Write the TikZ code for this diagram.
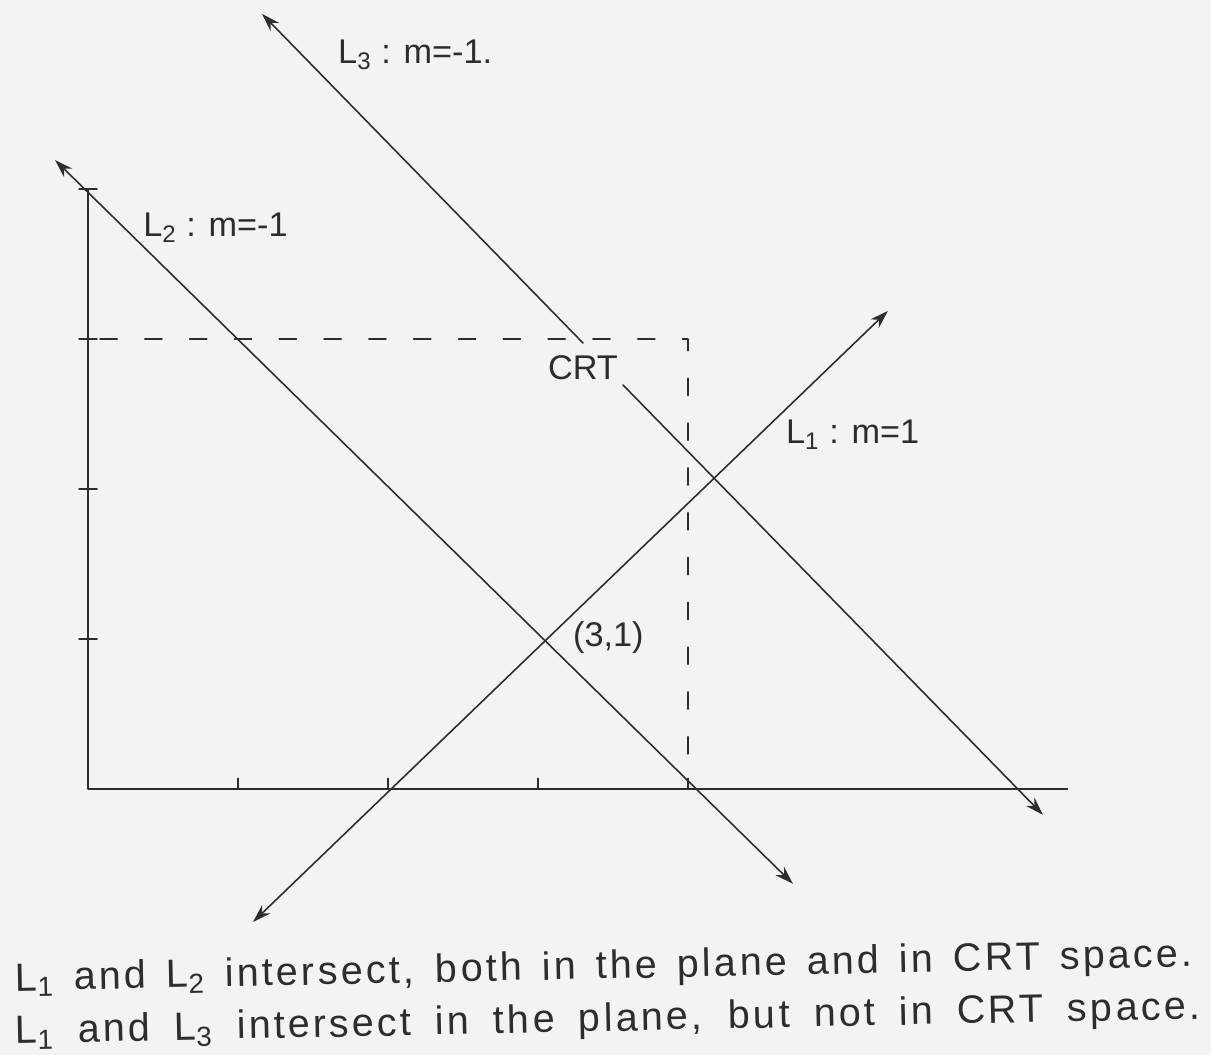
\documentclass[tikz,border=0pt]{standalone}
\usepackage{fontspec}
\setmainfont{Liberation Sans}
\usetikzlibrary{arrows.meta}
\definecolor{paper}{RGB}{243,243,243}
\definecolor{pencil}{RGB}{45,45,45}

\begin{document}
\begin{tikzpicture}[
    >={Stealth[length=7pt,width=4.5pt]},
    line cap=round,
    line join=round,
    x=2cm, y=2cm,
    pencil line/.style={draw=pencil, line width=0.6pt},
    hand label/.style={text=pencil, font=\fontsize{13}{15}\selectfont, inner sep=1pt},
    hand note/.style={text=pencil, font=\fontsize{15}{18}\selectfont\addfontfeatures{LetterSpace=8},
        rotate=1.2, anchor=west, inner sep=0pt}
]

%------------------------------------------------
% Paper
%------------------------------------------------
\fill[paper] (-0.587,-1.773) rectangle (7.487,5.26);
\useasboundingbox (-0.587,-1.773) rectangle (7.487,5.26);

%------------------------------------------------
% Axes and tick marks
%------------------------------------------------
\draw[pencil line] (0,4) -- (0,0) -- (6.53,0);

\foreach \k in {1,...,4} {
    \draw[pencil line] (-0.06,\k) -- (0.06,\k);
    \draw[pencil line] (\k,0) -- (\k,0.07);
}

%------------------------------------------------
% Dashed CRT boundary
%------------------------------------------------
\draw[pencil line, dashed, dash pattern=on 6.5pt off 10.5pt]
    (0.08,3) -- (4,3) -- (4,0);

%------------------------------------------------
% L1 : m=1
%------------------------------------------------
\coordinate (lonelow) at (1.10,-0.887);
\coordinate (lonehigh) at (5.333,3.187);
\draw[pencil line, <->] (lonelow) -- (lonehigh);

%------------------------------------------------
% L2 : m=-1
%------------------------------------------------
\coordinate (ltwohigh) at (-0.22,4.193);
\coordinate (ltwolow) at (4.70,-0.633);
\draw[pencil line, <->] (ltwohigh) -- (ltwolow);

%------------------------------------------------
% L3 : m=-1, broken at the CRT label
%------------------------------------------------
\coordinate (lthreehigh) at (1.16,5.167);
\coordinate (lthreelow) at (6.367,-0.173);
\coordinate (gapa) at (3.30,2.973);
\coordinate (gapb) at (3.567,2.693);
\draw[pencil line, ->] (gapa) -- (lthreehigh);
\draw[pencil line, ->] (gapb) -- (lthreelow);

%------------------------------------------------
% Labels
%------------------------------------------------
\node[hand label, anchor=west] (lthree) at (1.647,4.893) {L\textsubscript{3} : m=-1.};
\node[hand label, anchor=west] (ltwo) at (0.347,3.74) {L\textsubscript{2} : m=-1};
\node[hand label] (crt) at (3.30,2.807) {CRT};
\node[hand label, anchor=west] (lone) at (4.633,2.36) {L\textsubscript{1} : m=1};
\node[hand label, anchor=west] (point) at (3.213,1.007) {(3,1)};

%------------------------------------------------
% Note under the plot
%------------------------------------------------
\node[hand note] (noteone) at (-0.487,-1.28)
    {\hbox to 15.7cm{L\textsubscript{1} and L\textsubscript{2} intersect, both in the plane and in CRT space.}};
\node[hand note] (notetwo) at (-0.487,-1.63)
    {\hbox to 15.8cm{L\textsubscript{1} and L\textsubscript{3} intersect in the plane, but not in CRT space.}};

\end{tikzpicture}
\end{document}
